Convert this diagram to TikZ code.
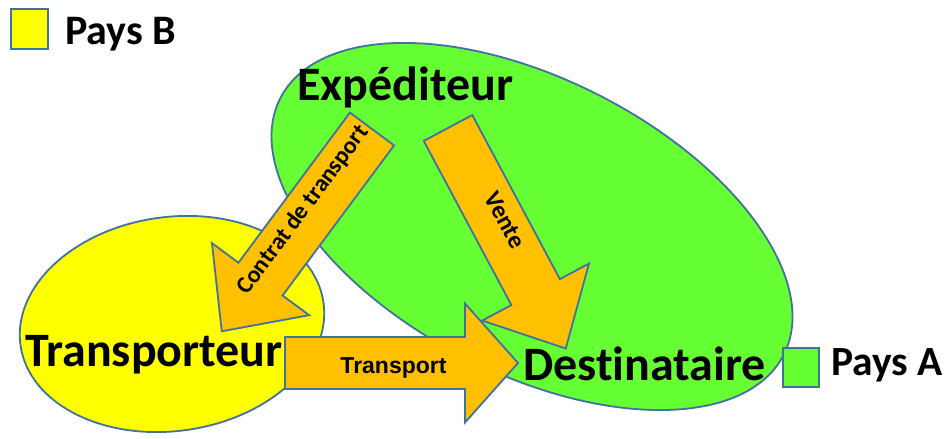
\documentclass[tikz,border=0pt]{standalone}
\usepackage{fontspec}
\setmainfont{Carlito}[Ligatures={NoCommon}]
\newfontfamily\arialfont{Liberation Sans}
\definecolor{paysA}{HTML}{66FF33}
\definecolor{paysB}{HTML}{FFFF00}
\definecolor{flux}{HTML}{FFC000}
\definecolor{bord}{HTML}{41719C}
\tikzset{
  zone/.style={draw=bord, line width=1.8pt},
  flechebox/.style={draw=bord, fill=flux, line width=1.8pt, line join=miter},
  legende/.style={draw=bord, line width=1.8pt},
  bigtext/.style={inner sep=0pt, anchor=base west, font=\bfseries\fontsize{48}{52}\selectfont},
  legtext/.style={inner sep=0pt, anchor=base west, font=\bfseries\fontsize{42}{46}\selectfont},
  arrowtext/.style={inner sep=0pt, font=\bfseries\fontsize{24}{28}\selectfont},
  pics/bigarrow/.style n args={4}{code={
    \draw[flechebox] (0,{-#2/2}) -- ({#1-#4},{-#2/2}) -- ({#1-#4},{-#3/2}) -- (#1,0)
      -- ({#1-#4},{#3/2}) -- ({#1-#4},{#2/2}) -- (0,{#2/2}) -- cycle;
  }}
}
\begin{document}
\begin{tikzpicture}[x=1pt,y=1pt]
\useasboundingbox (0,0) rectangle (948,439);
% zones
\draw[zone, fill=paysA, rotate around={-27:(532,212.5)}] (532,212.5) ellipse [x radius=282.5pt, y radius=147.4pt];
\draw[zone, fill=paysB, rotate around={8:(172,115)}] (172,115) ellipse [x radius=153pt, y radius=107pt];
% legend
\node[legende, fill=paysB, minimum width=37pt, minimum height=40pt, inner sep=0pt] (legB) at (29.5,410) {};
\node[legtext] (txtB) at (65,394.5) {Pays B};
\node[legende, fill=paysA, minimum width=36pt, minimum height=39pt, inner sep=0pt] (legA) at (801,71.5) {};
\node[legtext, font=\bfseries\fontsize{41.5}{46}\selectfont] (txtA) at (831,63) {Pays A};
% actors
\node[bigtext] (transporteur) at (25,72.3) {Transporteur};
% arrows
\pic[rotate=233.4] (contrat) at (372,310) {bigarrow={252}{55}{121}{65}};
\pic[rotate=-61.9] (vente) at (448,311) {bigarrow={250}{55}{121}{64}};
\pic (transport) at (285,76) {bigarrow={233}{52}{119}{53}};
\node[arrowtext, rotate=53.4] (lcontrat) at (303,229) {Contrat de transport};
\node[arrowtext, rotate=-61.9, font=\bfseries\fontsize{25}{28}\selectfont] (lvente) at (505,219) {Vente};
\node[inner sep=0pt, anchor=base, font=\arialfont\bfseries\fontsize{23}{26}\selectfont] (ltransport) at (393.5,65.7) {Transport};
\node[bigtext] (expediteur) at (297,338) {Expéditeur};
\node[bigtext] (destinataire) at (523,58) {Destinataire};
\end{tikzpicture}
\end{document}
